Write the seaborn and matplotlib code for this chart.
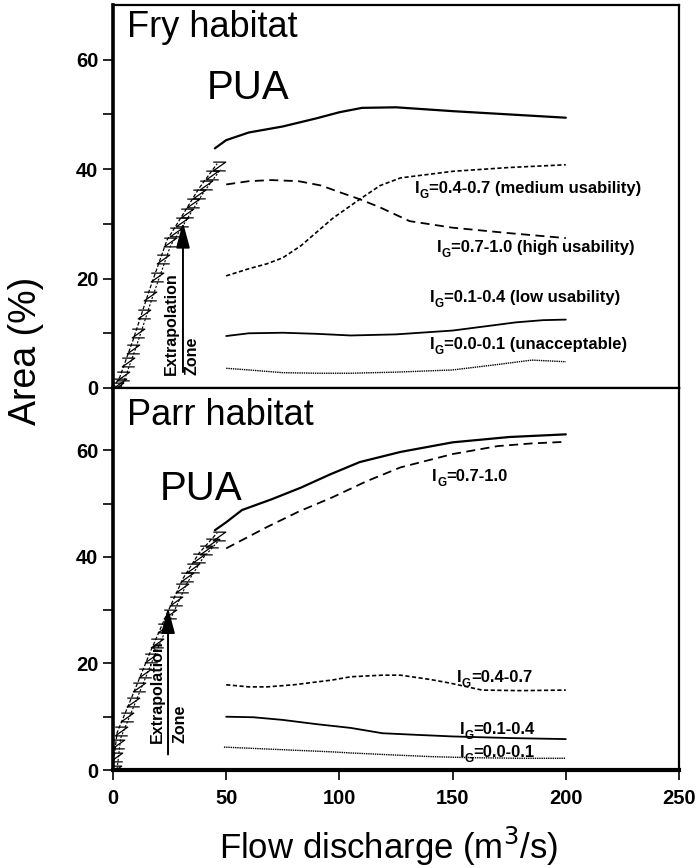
import matplotlib
matplotlib.use("Agg")
import matplotlib.pyplot as plt
import seaborn as sns
import numpy as np

# ---------------- data ----------------
# Fry habitat (top)
fry_ext_x = [0, 3, 8.8, 16, 23.8, 31, 38, 46]
fry_ext_y = [0, 2, 8.7, 17.8, 27, 31.8, 36.5, 41]
fry_pua_x = [45, 50, 60, 75, 90, 100, 110, 125, 150, 175, 200]
fry_pua_y = [43.8, 45.3, 46.7, 47.8, 49.3, 50.4, 51.2, 51.3, 50.6, 50.0, 49.4]
fry_high_x = [50, 60, 70, 82, 92, 100, 109, 118, 131, 150, 175, 200]
fry_high_y = [37.2, 37.8, 38.0, 37.8, 37.0, 35.8, 34.5, 33.0, 30.5, 29.3, 28.3, 27.4]
fry_med_x = [50, 60, 68, 75, 83, 90, 97, 109, 118, 127, 150, 175, 195, 200]
fry_med_y = [20.5, 21.8, 22.7, 23.8, 26.0, 28.5, 31.0, 34.5, 37.0, 38.4, 39.6, 40.3, 40.7, 40.8]
fry_low_x = [50, 60, 75, 90, 105, 125, 150, 165, 178, 190, 200]
fry_low_y = [9.5, 10.0, 10.1, 9.9, 9.6, 9.8, 10.5, 11.3, 12.0, 12.4, 12.5]
fry_unacc_x = [50, 60, 75, 90, 105, 125, 150, 170, 185, 200]
fry_unacc_y = [3.6, 3.3, 2.8, 2.7, 2.7, 2.9, 3.3, 4.3, 5.1, 4.8]

# Parr habitat (bottom)
parr_ext_x = [0, 1.8, 9, 16.3, 24, 31, 38, 46]
parr_ext_y = [0.5, 7, 14.4, 22, 29.5, 36, 40.7, 44.5]
parr_pua_x = [45, 50, 57, 70, 83, 96, 109, 127, 150, 175, 200]
parr_pua_y = [45.0, 46.5, 48.8, 50.8, 53.0, 55.5, 57.8, 59.7, 61.5, 62.5, 63.0]
parr_high_x = [50, 68, 82, 97, 112, 127, 150, 170, 185, 200]
parr_high_y = [41.6, 45.6, 48.5, 51.2, 54.2, 56.8, 59.3, 60.8, 61.3, 61.6]
parr_med_x = [50, 60, 68, 80, 97, 105, 119, 127, 140, 149, 163, 180, 200]
parr_med_y = [16.0, 15.6, 15.6, 16.0, 16.9, 17.5, 17.8, 17.8, 17.0, 16.3, 15.0, 14.9, 15.0]
parr_low_x = [50, 62, 75, 90, 105, 119, 134, 150, 175, 200]
parr_low_y = [10.0, 9.9, 9.4, 8.6, 7.9, 6.9, 6.6, 6.3, 6.0, 5.8]
parr_unacc_x = [49, 70, 97, 105, 120, 141, 160, 180, 200]
parr_unacc_y = [4.3, 3.9, 3.4, 3.2, 2.9, 2.5, 2.3, 2.2, 2.2]

x_ticks = [0, 50, 100, 150, 200, 250]
y_ticks = [0, 20, 40, 60]

fry_labels = ["=0.4-0.7 (medium usability)", "=0.7-1.0 (high usability)",
              "=0.1-0.4 (low usability)", "=0.0-0.1 (unacceptable)"]
parr_labels = ["=0.7-1.0", "=0.4-0.7", "=0.1-0.4", "=0.0-0.1"]

# ---------------- style ----------------
sns.set_theme(style="white")
SANS = ["Liberation Sans", "DejaVu Sans"]
plt.rcParams["font.family"] = SANS
for k in ("text.color", "axes.labelcolor", "xtick.color", "ytick.color", "axes.edgecolor"):
    plt.rcParams[k] = "black"

fig = plt.figure(figsize=(6.96, 8.68), dpi=100)
L, R = 113 / 696, 679 / 696
ax1 = fig.add_axes([L, 1 - 388 / 868, R - L, (388 - 5) / 868])
ax2 = fig.add_axes([L, 1 - 770 / 868, R - L, (770 - 388) / 868])

zig = [(-1, 0.7), (1, 0.7), (-1, -0.7), (1, -0.7)]


def draw(ax, x, y, ls, lw):
    sns.lineplot(x=x, y=y, ax=ax, color="black", linestyle=ls, linewidth=lw,
                 sort=False, estimator=None)


def draw_ext(ax, x, y):
    xs = np.array(x, float)
    ys = np.array(y, float)
    sns.lineplot(x=xs, y=ys, ax=ax, color="black", linestyle=(0, (3, 1.5)),
                 linewidth=0.9, sort=False, estimator=None)
    sns.lineplot(x=xs + 1.6, y=ys - 1.0, ax=ax, color="black", linestyle=(0, (2, 1.5)),
                 linewidth=0.8, sort=False, estimator=None)
    xm = np.interp(np.linspace(0, 1, 20), np.linspace(0, 1, len(xs)), xs)
    ym = np.interp(np.linspace(0, 1, 20), np.linspace(0, 1, len(ys)), ys)
    ax.plot(xm + 0.8, ym - 0.5, linestyle="none", marker=zig, markersize=9,
            markerfacecolor="none", markeredgecolor="black", markeredgewidth=0.9)


# top panel
draw_ext(ax1, fry_ext_x, fry_ext_y)
draw(ax1, fry_pua_x, fry_pua_y, "-", 1.6)
draw(ax1, fry_high_x, fry_high_y, (0, (5, 3)), 1.3)
draw(ax1, fry_med_x, fry_med_y, (0, (2.5, 1.5)), 1.2)
draw(ax1, fry_low_x, fry_low_y, "-", 1.3)
draw(ax1, fry_unacc_x, fry_unacc_y, (0, (1, 0.6)), 1.0)

# bottom panel
draw_ext(ax2, parr_ext_x, parr_ext_y)
draw(ax2, parr_pua_x, parr_pua_y, "-", 1.6)
draw(ax2, parr_high_x, parr_high_y, (0, (5, 3)), 1.3)
draw(ax2, parr_med_x, parr_med_y, (0, (2.5, 1.5)), 1.2)
draw(ax2, parr_low_x, parr_low_y, "-", 1.3)
draw(ax2, parr_unacc_x, parr_unacc_y, (0, (1, 0.6)), 1.0)

for ax, top in ((ax1, 70), (ax2, 71.7)):
    ax.set_xlim(0, 250)
    ax.set_ylim(0, top)
    ax.set_yticks(y_ticks)
    ax.set_yticks([10, 30, 50], minor=True)
    ax.set_xticks(x_ticks)
    ax.tick_params(axis="both", which="both", direction="out", length=7, width=1.2,
                   color="black", left=True, bottom=True)
    ax.set_yticklabels([str(v) for v in y_ticks], fontweight="bold", fontsize=14.5)
    for s in ax.spines.values():
        s.set_color("black")
        s.set_linewidth(1.6)
    ax.spines["left"].set_linewidth(2.6)
    ax.set_ylabel("")
    ax.set_xlabel("")

ax1.set_xticklabels([])
ax2.set_xticklabels([str(v) for v in x_ticks], fontweight="bold", fontsize=14.5)
ax2.spines["bottom"].set_linewidth(3)
ax2.tick_params(axis="x", pad=7)

# titles and PUA
ax1.text(0.025, 0.916, "Fry habitat", transform=ax1.transAxes, fontsize=26,
         va="baseline", ha="left")
ax2.text(0.025, 0.903, "Parr habitat", transform=ax2.transAxes, fontsize=26,
         va="baseline", ha="left")
ax1.text(41.5, 52.9, "PUA", fontsize=29, va="baseline", ha="left")
ax2.text(20.8, 50.7, "PUA", fontsize=29, va="baseline", ha="left")

LBL = 12.0


def ig_label(ax, x, y, rest):
    t = ax.text(x, y, "I", fontsize=LBL, fontweight="bold", va="center", ha="left")
    fig.canvas.draw()
    bb = t.get_window_extent()
    inv = ax.transData.inverted()
    x1 = inv.transform((bb.x1, bb.y0))[0]
    g = ax.text(x1 + 0.1, y - 1.2, "G", fontsize=8.5, fontweight="bold",
                va="center", ha="left")
    fig.canvas.draw()
    gx1 = inv.transform((g.get_window_extent().x1, 0))[0]
    ax.text(gx1 + 0.1, y, rest, fontsize=LBL, fontweight="bold",
            va="center", ha="left")


fry_pos = [(133.4, 36.4), (143.1, 25.6), (140, 16.5), (140, 7.9)]
for (x, y), lab in zip(fry_pos, fry_labels):
    ig_label(ax1, x, y, lab)
parr_pos = [(141, 55.0), (152, 17.3), (153, 7.6), (153, 3.3)]
for (x, y), lab in zip(parr_pos, parr_labels):
    ig_label(ax2, x, y, lab)

# Extrapolation zone arrows
ax1.annotate("", xy=(30.9, 30.8), xytext=(30.9, 2.4),
             arrowprops=dict(arrowstyle="-|>,head_length=1.3,head_width=0.35",
                             color="black", lw=1.4))
ax1.text(25.8, 2.4, "Extrapolation", rotation=90, fontsize=11.5, fontweight="bold",
         ha="center", va="bottom")
ax1.text(35.1, 2.4, "Zone", rotation=90, fontsize=11.5, fontweight="bold",
         ha="center", va="bottom")
ax2.annotate("", xy=(24.3, 31.0), xytext=(24.3, 2.4),
             arrowprops=dict(arrowstyle="-|>,head_length=1.3,head_width=0.35",
                             color="black", lw=1.4))
ax2.text(19.7, 5.1, "Extrapolation", rotation=90, fontsize=11.5, fontweight="bold",
         ha="center", va="bottom")
ax2.text(29.6, 5.1, "Zone", rotation=90, fontsize=11.5, fontweight="bold",
         ha="center", va="bottom")

fig.text(26 / 696, 1 - 351 / 868, "Area (%)", rotation=90, fontsize=27,
         ha="center", va="center")
fig.text(389 / 696, 1 - 859 / 868, "Flow discharge (m$^3$/s)",
         fontsize=25, ha="center", va="baseline")

fig.savefig("out.png", dpi=100)
